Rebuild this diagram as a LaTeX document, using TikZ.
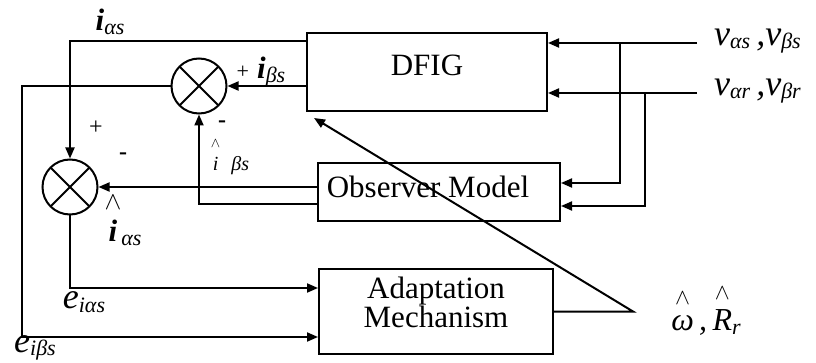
\RequirePackage{fix-cm}
\documentclass[tikz,border=0pt]{standalone}
\usepackage{amsmath}
\usepackage{fontspec}
\setmainfont{Liberation Serif}
\usetikzlibrary{arrows.meta}
\tikzstyle{blockbox} = [draw=black, line width=2pt, rectangle, inner sep=0pt,
    align=center, font=\fontsize{31}{29}\selectfont]
\tikzstyle{sumnode} = [draw=black, line width=2pt, circle, minimum size=55pt,
    inner sep=0pt, path picture={
        \draw[line width=2pt] (path picture bounding box.north west) -- (path picture bounding box.south east)
            (path picture bounding box.north east) -- (path picture bounding box.south west);}]
\tikzstyle{conn} = [line width=2pt, -{Triangle[length=11pt,width=9pt]}]
\tikzstyle{lbl} = [inner sep=1pt, font=\fontsize{36}{36}\selectfont\itshape]
\tikzstyle{sgn} = [inner sep=1pt, font=\fontsize{24}{24}\selectfont\bfseries]
% subscript, hat and lifted block text
\newcommand{\lsub}[1]{\raisebox{-0.1em}{\fontsize{22}{22}\selectfont\itshape #1}}
\newcommand{\lhat}[1]{$\overset{\raisebox{6pt}{$\scriptstyle\wedge$}}{\text{#1}}$}
\newcommand{\lift}[2]{\raisebox{#1}[\height][\depth]{#2}}

\begin{document}
\begin{tikzpicture}[x=1pt,y=-1pt]
    \useasboundingbox (0,0) rectangle (816,363);
    % blocks
    \node [blockbox, minimum width=240pt, minimum height=78pt] (dfig) at (427,72) {\lift{7pt}{DFIG}};
    \node [blockbox, minimum width=242pt, minimum height=58pt] (obs) at (439,192) {\lift{5pt}{Observer Model}\hspace*{22pt}};
    \node [blockbox, minimum width=234pt, minimum height=85pt] (adapt) at (436,311.5)
        {\lift{5pt}{\begin{tabular}{@{}c@{}}Adaptation\\[-2pt]Mechanism\end{tabular}}};
    % summing points
    \node [sumnode] (sumB) at (199,86) {};
    \node [sumnode] (sumA) at (70,187) {};
    % free ends and corners
    \coordinate (vs) at (697,43);
    \coordinate (vr) at (697,93);
    \coordinate (tapS) at (620,43);
    \coordinate (tapR) at (645,93);
    \coordinate (eb) at (22,337);
    \coordinate (wr) at (633,311.5);
    % connections
    \draw [conn] ([yshift=-9pt]dfig.north west) -| (sumA.north);
    \draw [conn] ([yshift=-14pt]dfig.west) -- (sumB.east);
    \draw [conn] (sumB.west) -| (eb) -- (eb -| adapt.west);
    \draw [conn] (sumA.south) |- ([yshift=23.5pt]adapt.west);
    \draw [conn] ([yshift=5pt]obs.west) -- (sumA.east);
    \draw [conn] ([yshift=-12pt]obs.west) -| (sumB.south);
    \draw [conn] (vs) -- (vs -| dfig.east);
    \draw [conn] (vr) -- (vr -| dfig.east);
    \draw [conn] (tapS) |- ([yshift=9pt]obs.east);
    \draw [conn] (tapR) |- ([yshift=-14pt]obs.east);
    \draw [conn] (adapt.east) -- (wr) -- ([shift={(8pt,-6pt)}]dfig.south west);
    % labels
    \node [lbl] (lIas) at (110,22) {\textbf{\fontsize{31}{31}\selectfont i}\lsub{αs}};
    \node [lbl] (lIbs) at (261,72) {{\fontsize{22}{22}\selectfont\upshape +}\hspace{8pt}\textbf{\fontsize{31}{31}\selectfont i}\lsub{βs}};
    \node [sgn] (mB) at (222,124) {-};
    \node [lbl, font=\fontsize{20}{20}\selectfont\itshape] (lIbsHat) at (230,156) {\lhat{i}\;\;βs};
    \node [sgn, font=\fontsize{24}{24}\selectfont] (pA) at (96,128) {+};
    \node [sgn] (mA) at (123,156) {-};
    \node [lbl] (lIasHat) at (123,219) {\lhat{\textbf{\fontsize{31}{31}\selectfont i}}\lsub{αs}};
    \node [lbl] (lEa) at (84,302) {e\lsub{iαs}};
    \node [lbl] (lEb) at (35,348) {e\lsub{iβs}};
    \node [lbl, anchor=west] (lVs) at (713,41) {v\lsub{αs}\,,v\lsub{βs}};
    \node [lbl, anchor=west] (lVr) at (713,91) {v\lsub{αr}\,,v\lsub{βr}};
    \node [lbl, font=\fontsize{32}{32}\selectfont\itshape] (lW) at (706,310) {\lhat{ω}\,,\,\lhat{R}\lsub{r}};
\end{tikzpicture}
\end{document}
